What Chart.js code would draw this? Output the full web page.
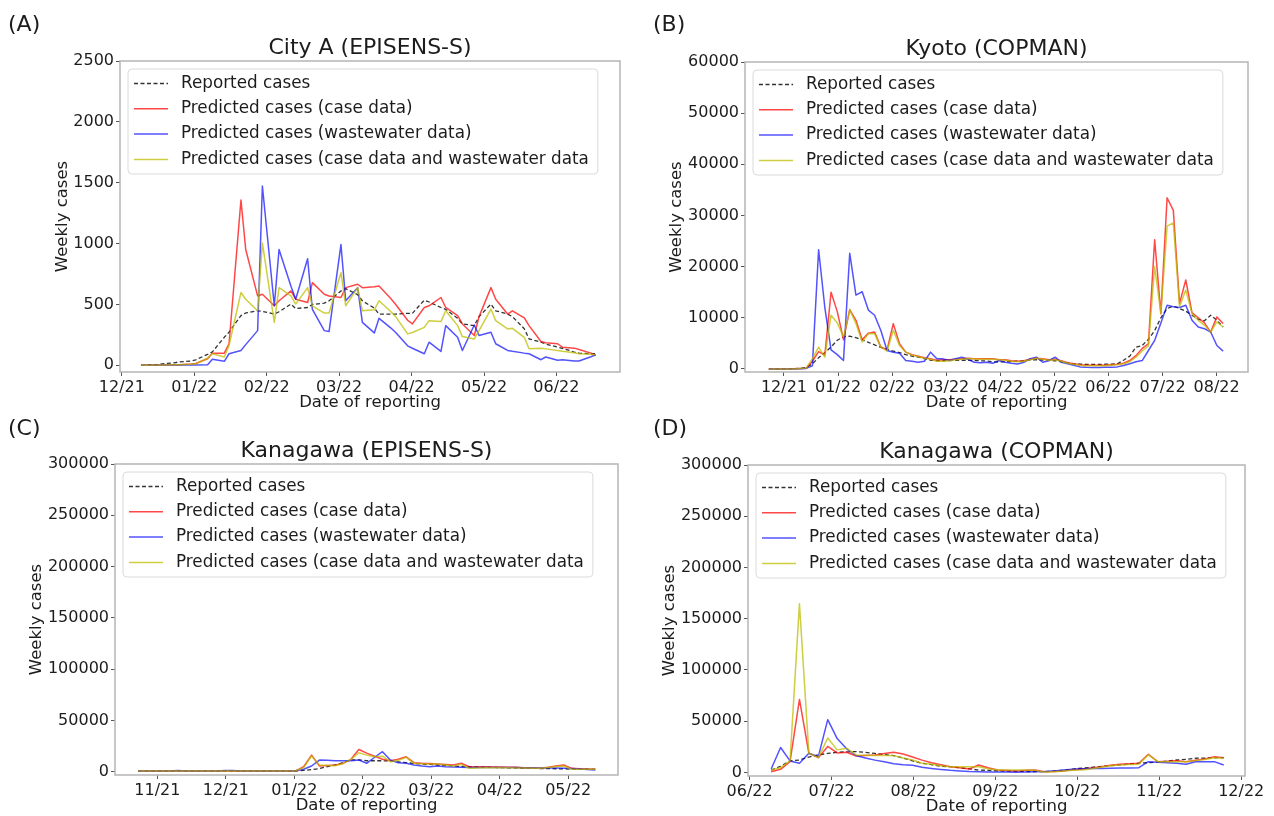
<!DOCTYPE html>
<html>
<head>
<meta charset="utf-8">
<script src="https://cdn.jsdelivr.net/npm/chart.js@4.4.1/dist/chart.umd.min.js"></script>
<style>
  html, body { margin: 0; background: #fff; }
  #wrap { position: relative; width: 1274px; height: 816px; overflow: hidden; }
  #wrap canvas { position: absolute; left: 0; top: 0; }
</style>
</head>
<body>
<div id="wrap"></div>
<script>
// ---------- Data ----------
// x = days from the first month tick of each panel, y = weekly cases

// (A) City A, EPISENS-S
const daysA = [8,10,15,17,22,24,29,31,36,38,43,45,50,52,57,59,64,66,71,73,78,80,85,87,92,94,99,101,106,108,113,115,120,122,127,129,134,136,141,143,148,150,155,157,162,164,169,171,176,178,183,185,190,192,197,199];
const reportedA = [0,2,8,12,20,28,35,45, 90,110,230,272,408,430,448,443, 421,440,503,467,475,500,511,530, 611,630,580,530,470,421,421,421, 427,427,535,520,475,460,386,340, 326,400,503,448,421,400,300,217, 190,175,149,140,109,100,95,95];
const caseA = [0,0,3,3,5,5,10,15, 54,100,100,177,1358,951,570,584, 489,530,611,543,516,679,584,570, 557,638,666,638,645,652,547,500, 370,340,475,489,557,475,408,340, 245,400,638,543,421,448,390,326, 196,185,177,149,141,130,100,82];
const wastewaterA = [0,0,3,3,3,3,3,3, 5,49,33,95,122,170,285,1473, 489,951,650,543,875,460,285,277, 992,530,638,353,266,386,306,270, 160,140,95,190,114,326,231,122, 331,245,272,177,122,115,100,95, 46,68,41,46,35,35,70,87];
const combinedA = [0,0,3,3,5,5,8,12, 60,95,68,163,598,543,448,1005, 353,638,570,503,638,489,429,429, 761,489,638,448,456,530,440,400, 258,270,312,367,359,448,326,236, 217,285,462,367,299,304,230,136, 141,135,122,115,103,95,90,87];
const monthsA = ['12/21','01/22','02/22','03/22','04/22','05/22','06/22'];
const yTicksA = [0,500,1000,1500,2000,2500];

// (B) Kyoto, COPMAN
const daysB = [-8.5,-5,-1.5,2,5.5,9,12.5,16,19.5,23,26.5,30,33.5,37,40.5,44,47.5,51,54.5,58,61.5,65,68.5,72,75.5,79,82.5,86,89.5,93,96.5,100,103.5,107,110.5,114,117.5,121,124.5,128,131.5,135,138.5,142,145.5,149,152.5,156,159.5,163,166.5,170,173.5,177,180.5,184,187.5,191,194.5,198,201.5,205,208.5,212,215.5,219,222.5,226,229.5,233,236.5,240,243.5,247];
const reportedB = [0,0,0,0,50,100,300,1000,2200,3200, 4300,5600,6300,6400,6100,5700,5200,4700,4200,3800, 3500,3200,2800,2500,2300,2000,1700,1600,1600,1650, 1700,1700,1700,1650,1600,1550,1400,1350,1400,1450, 1500,1600,1750,1800,1750,1700,1600,1400,1200,1000, 950,900,900,900,920,950,1000,1700,2500,4260, 4590,5800,7500,10000,11800,12270,11800,11300,10500,9700, 9400,10500,9500,8200];
const caseB = [0,0,0,0,50,100,150,1500,3400,2700, 15000,11200,5700,11600,9500,5700,7000,7200,4300,3740, 8860,4920,3280,2800,2500,2200,2000,1700,1800,1800, 1900,2000,2100,2000,2000,2000,2000,1800,1800,1600, 1500,1600,1900,2100,2000,1800,1900,1600,1200,1000, 800,700,700,700,700,800,900,1100,1640,2600, 4000,4920,25250,10800,33460,31000,12790,17400,11000,10000, 9000,7200,10170,8860];
const wastewaterB = [0,0,0,0,0,50,100,600,23300,12000, 3740,2800,1640,22600,14430,15090,11500,10500,7500,3600, 3280,3080,1640,1500,1310,1500,3280,1970,1970,1640, 2000,2300,1900,1310,1200,1300,1120,1640,1300,1100, 980,1300,2000,2300,1310,1600,2300,1310,1000,700, 400,330,300,300,330,330,400,660,1000,1400, 1640,3600,5580,9000,12460,12140,12000,12460,9500,8200, 7870,7220,4590,3480];
const combinedB = [0,0,0,0,0,80,150,2000,4260,2300, 10500,9000,6230,11600,8860,5250,6890,6890,4260,3500, 7540,4590,3280,2700,2400,2100,1900,1500,1500,1600, 1800,1900,2000,2000,1900,1900,1900,1800,1700,1500, 1400,1500,1800,2100,1900,1700,1800,1500,1100,900, 700,600,600,600,600,700,800,1000,1400,2300, 3500,4500,20000,10800,27900,28540,12140,15420,10800,9500, 8530,7220,9180,8200];
const monthsB = ['12/21','01/22','02/22','03/22','04/22','05/22','06/22','07/22','08/22'];
const yTicksB = [0,10000,20000,30000,40000,50000,60000];

// (C) Kanagawa, EPISENS-S
const daysC = [-8.5,-5,-1.5,2,5.5,9,12.5,16,19.5,23,26.5,30,33.5,37,40.5,44,47.5,51,54.5,58,61.5,65,68.5,72,75.5,79,82.5,86,89.5,93,96.5,100,103.5,107,110.5,114,117.5,121,124.5,128,131.5,135,138.5,142,145.5,149,152.5,156,159.5,163,166.5,170,173.5,177,180.5,184,187.5,191,194.5];
const reportedC = [500,500,500,500,500,500,500,500,500,500, 500,500,500,500,500,500,500,500,500,500, 500,1200,2000,3000,4800,6500,8800,11500,11500,10600, 10600,10600,10400,9500,8700,8000,7400,7000,6450,6000, 5500,5000,4800,4500,4300,4100,3900,3700,3500,3400, 3200,3000,2900,2800,2600,2500,2400,2300,2300];
const caseC = [500,500,500,500,500,500,500,500,500,500, 500,500,500,500,500,500,500,500,500,500, 800,4800,16100,5500,6000,6500,8000,12000,21600,18000, 15000,12000,10600,12000,14500,8700,8100,7800,7400,7000, 6450,8100,4800,4800,4700,4600,4500,4300,4200,3800, 3500,3200,4200,5500,6450,3200,2800,2500,2300];
const wastewaterC = [500,500,500,500,500,1000,600,500,500,500, 500,1000,1000,500,500,500,500,500,500,500, 800,2300,5500,11300,11000,10600,10600,10600,11300,8100, 14000,19400,11300,8700,8100,6450,5500,4800,5500,4800, 4500,4200,3900,3900,3900,3900,3900,3900,3900,3500, 3500,3500,3500,3500,3200,3000,2500,2000,1600];
const combinedC = [500,500,500,500,500,500,500,500,500,500, 500,500,500,500,500,500,500,500,500,500, 800,3900,15200,6450,6000,5800,8000,12000,18400,16100, 14500,15000,9700,11000,13900,8100,7600,7400,7400,6500, 5500,7100,3200,3500,3800,3800,3800,3800,3600,3500, 3300,3200,4000,5000,5500,2300,2300,2300,2300];
const monthsC = ['11/21','12/21','01/22','02/22','03/22','04/22','05/22'];
const yTicksC = [0,50000,100000,150000,200000,250000,300000];

// (D) Kanagawa, COPMAN
const daysD = [8,11.5,15,18.5,22,25.5,29,32.5,36,39.5,43,46.5,50,53.5,57,60.5,64,67.5,71,74.5,78,81.5,85,88.5,92,95.5,99,102.5,106,109.5,113,116.5,120,123.5,127,130.5,134,137.5,141,144.5,148,151.5,155,158.5,162,165.5,169,172.5,176];
const reportedD = [2300,6000,11200,12100,15000,17100,18500,19700,20000,20300, 19500,18500,17500,16400,14000,11200,9000,7500,6000,5600, 4500,3500,2300,2000,1600,1300,1100,900,800,700, 1200,2000,3300,4200,5000,5800,6600,7400,8200,9000, 9500,10200,11000,12100,12800,13800,14000,14300,14400];
const caseD = [650,3000,10500,71200,18700,14400,25300,19000,19700,16000, 16500,17000,18500,19700,18000,15000,12000,9500,7500,5600, 4500,3300,7200,4500,2300,1800,1300,2000,2300,700, 1000,1300,2500,3300,4300,5500,7000,7900,8400,8900, 17700,10500,10800,11500,10500,11800,13100,15400,14400];
const wastewaterD = [3300,24300,11200,8900,18700,15400,51500,33000,23000,16500, 14000,12000,10500,8500,7500,7000,5000,3800,2800,2000, 1500,900,700,500,400,300,200,400,600,800, 1500,2300,3000,3500,3700,3900,4000,4200,4400,4600, 10500,10000,9500,8900,7900,10500,10500,10500,7200];
const combinedD = [2300,4600,11200,164700,18700,14400,33500,22000,23600,17100, 16800,16600,16500,16400,14000,12100,9000,7900,6500,5600, 5600,5600,5600,3500,2300,2300,2300,2300,2000,300, 700,1300,2000,2300,3500,5000,6500,7200,7600,7900, 17100,10500,10500,10500,10500,11500,12500,14400,13800];
const monthsD = ['06/22','07/22','08/22','09/22','10/22','11/22','12/22'];
const yTicksD = [0,50000,100000,150000,200000,250000,300000];

const seriesNames = [
  'Reported cases',
  'Predicted cases (case data)',
  'Predicted cases (wastewater data)',
  'Predicted cases (case data and wastewater data'
];

// ---------- Styling ----------
const W = 1274, H = 816;
const MONTH = 365 / 12;          // month ticks are evenly spaced
const YAXIS_W = 100, XAXIS_H = 40;
const FONT = '"DejaVu Sans", Verdana, sans-serif';
const INK = '#1c1c1c';
const lineStyles = [
  { color: 'rgba(0,0,0,0.8)',      width: 1.3, dash: [4, 2.5], order: 3 },
  { color: 'rgba(255,0,0,0.72)',   width: 1.5, dash: [],       order: 2 },
  { color: 'rgba(0,0,255,0.68)',   width: 1.5, dash: [],       order: 1 },
  { color: 'rgba(190,190,0,0.75)', width: 1.5, dash: [],       order: 0 }
];

Chart.defaults.font.family = FONT;

// frame, titles, axis titles and legend box
const decor = {
  id: 'decor',
  afterDraw(chart, args, o) {
    const { ctx, chartArea: a } = chart;
    const cx = (a.left + a.right) / 2;

    ctx.save();
    ctx.strokeStyle = '#b5b5b5';
    ctx.lineWidth = 1.5;
    ctx.strokeRect(a.left, a.top, a.right - a.left, a.bottom - a.top);

    ctx.fillStyle = INK;
    ctx.font = `22px ${FONT}`;
    ctx.textAlign = 'left';
    ctx.textBaseline = 'middle';
    ctx.fillText(o.letter, o.letterX, o.letterY);

    ctx.textAlign = 'center';
    ctx.textBaseline = 'alphabetic';
    ctx.fillText(o.title, cx, a.top - 7);

    ctx.font = `16.5px ${FONT}`;
    ctx.textBaseline = 'middle';
    ctx.fillText('Date of reporting', cx, a.bottom + 31);

    // y title sits left of the widest tick label
    ctx.font = `16px ${FONT}`;
    const widest = Math.max(...chart.scales.y.ticks.map(t => ctx.measureText(String(t.value)).width));
    ctx.translate(a.left - 5 - widest - 12, (a.top + a.bottom) / 2);
    ctx.rotate(-Math.PI / 2);
    ctx.font = `16.5px ${FONT}`;
    ctx.fillText('Weekly cases', 0, 0);
    ctx.restore();

    // legend
    ctx.save();
    ctx.font = `16.8px ${FONT}`;
    const textW = Math.max(...seriesNames.map(n => ctx.measureText(n).width));
    const bx = a.left + 8, by = a.top + 8, bw = 53 + textW + 9, bh = 105;
    ctx.beginPath();
    ctx.roundRect(bx, by, bw, bh, 4);
    ctx.fillStyle = 'rgba(255,255,255,0.8)';
    ctx.fill();
    ctx.strokeStyle = '#dadada';
    ctx.lineWidth = 1;
    ctx.stroke();
    seriesNames.forEach((name, i) => {
      const y = by + 14.5 + 25.3 * i;
      const s = lineStyles[i];
      ctx.beginPath();
      ctx.setLineDash(s.dash);
      ctx.strokeStyle = s.color;
      ctx.lineWidth = s.width;
      ctx.moveTo(bx + 6, y);
      ctx.lineTo(bx + 40, y);
      ctx.stroke();
      ctx.setLineDash([]);
      ctx.fillStyle = INK;
      ctx.textAlign = 'left';
      ctx.textBaseline = 'middle';
      ctx.fillText(name, bx + 53, y);
    });
    ctx.restore();
  }
};

const panels = [
  { letter: '(A)', letterX: 8, letterY: 25, title: 'City A (EPISENS-S)',
    frame: { l: 120, r: 620, t: 61, b: 372 }, xMin: -0.8, xMax: 209.2, yMin: -55, yMax: 2500,
    days: daysA, series: [reportedA, caseA, wastewaterA, combinedA], months: monthsA, yTicks: yTicksA },
  { letter: '(B)', letterX: 653, letterY: 25, title: 'Kyoto (COPMAN)',
    frame: { l: 745, r: 1248, t: 62, b: 372 }, xMin: -21.9, xMax: 261, yMin: -600, yMax: 60000,
    days: daysB, series: [reportedB, caseB, wastewaterB, combinedB], months: monthsB, yTicks: yTicksB },
  { letter: '(C)', letterX: 8, letterY: 429, title: 'Kanagawa (EPISENS-S)',
    frame: { l: 115, r: 618, t: 464, b: 775 }, xMin: -18.8, xMax: 204.6, yMin: -3300, yMax: 300000,
    days: daysC, series: [reportedC, caseC, wastewaterC, combinedC], months: monthsC, yTicks: yTicksC },
  { letter: '(D)', letterX: 653, letterY: 429, title: 'Kanagawa (COPMAN)',
    frame: { l: 748, r: 1245, t: 465, b: 776 }, xMin: -0.6, xMax: 183.9, yMin: -3500, yMax: 300000,
    days: daysD, series: [reportedD, caseD, wastewaterD, combinedD], months: monthsD, yTicks: yTicksD }
];

function drawPanel(p) {
  const canvas = document.createElement('canvas');
  canvas.width = W;
  canvas.height = H;
  document.getElementById('wrap').appendChild(canvas);
  const f = p.frame;

  const datasets = p.series.map((vals, i) => ({
    label: seriesNames[i],
    data: vals.map((v, j) => ({ x: p.days[j], y: v })),
    borderColor: lineStyles[i].color,
    borderWidth: lineStyles[i].width,
    borderDash: lineStyles[i].dash,
    borderJoinStyle: 'round',
    order: lineStyles[i].order,
    pointRadius: 0,
    tension: 0,
    fill: false
  }));

  const tickFont = { family: FONT, size: 16 };
  const tickGrid = { drawOnChartArea: false, drawTicks: true, tickLength: 4, color: '#555', lineWidth: 1 };

  new Chart(canvas, {
    type: 'line',
    data: { datasets },
    options: {
      responsive: false,
      animation: false,
      devicePixelRatio: 1,
      events: [],
      layout: { padding: { left: f.l - YAXIS_W, right: W - f.r, top: f.t, bottom: H - f.b - XAXIS_H } },
      scales: {
        x: {
          type: 'linear', min: p.xMin, max: p.xMax,
          afterBuildTicks: s => { s.ticks = p.months.map((_, i) => ({ value: i * MONTH })); },
          afterFit: s => { s.height = XAXIS_H; s.paddingLeft = 0; s.paddingRight = 0; },
          ticks: { autoSkip: false, maxRotation: 0, padding: 2, color: INK, font: tickFont,
                   callback: (v, i) => p.months[i] },
          grid: tickGrid,
          border: { display: false }
        },
        y: {
          type: 'linear', min: p.yMin, max: p.yMax,
          afterBuildTicks: s => { s.ticks = p.yTicks.map(v => ({ value: v })); },
          afterFit: s => { s.width = YAXIS_W; s.paddingTop = 0; s.paddingBottom = 0; },
          ticks: { padding: 2, color: INK, font: tickFont, callback: v => String(v) },
          grid: tickGrid,
          border: { display: false }
        }
      },
      plugins: {
        legend: { display: false },
        tooltip: { enabled: false },
        decor: { letter: p.letter, letterX: p.letterX, letterY: p.letterY, title: p.title }
      }
    },
    plugins: [decor]
  });
}

panels.forEach(drawPanel);
</script>
</body>
</html>
